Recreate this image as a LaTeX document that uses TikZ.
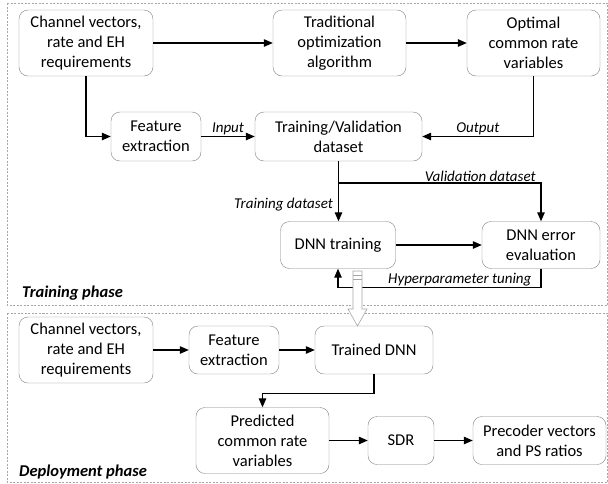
\documentclass[tikz,border=0pt]{standalone}
\usepackage{fontspec}
\setmainfont{Carlito}
\usetikzlibrary{arrows.meta}

\begin{document}
\begin{tikzpicture}[x=1pt,y=-1pt,
    box/.style={draw=gray,rounded corners=9pt,align=center,inner sep=0pt,
                font=\fontsize{16.5}{20}\selectfont},
    lbl/.style={font=\fontsize{15}{18}\selectfont\itshape,inner sep=1pt},
    phase/.style={font=\fontsize{16.5}{20}\selectfont\bfseries\itshape,anchor=west,inner sep=0pt},
    arr/.style={line width=1.2pt,-{Triangle[length=9pt,width=7.5pt]}},
    frame/.style={gray!70,dash pattern=on 2pt off 1.5pt,line width=0.6pt}]
  \useasboundingbox (0,0) rectangle (608,483);

  % phase frames
  \draw[frame] (7,3) rectangle (607.5,305);
  \draw[frame] (7,313) rectangle (607.5,482);
  \node[phase] (trphase) at (22,293) {Training phase};
  \node[phase] (dephase) at (19,472) {Deployment phase};

  % training phase
  \node[box,minimum width=134pt,minimum height=66pt] (chan) at (86,43)
       {Channel vectors,\\rate and EH\\requirements};
  \node[box,minimum width=133pt,minimum height=66pt] (trad) at (339.5,43)
       {Traditional\\optimization\\algorithm};
  \node[box,minimum width=133pt,minimum height=66pt] (opt) at (533.5,43)
       {Optimal\\common rate\\variables};
  \node[box,minimum width=90pt,minimum height=49pt] (feat) at (156,136.5)
       {Feature\\extraction};
  \node[box,minimum width=167pt,minimum height=49pt] (trval) at (338.5,136.5)
       {Training/Validation\\dataset};
  \node[box,minimum width=115pt,minimum height=47pt] (dnntr) at (338,245)
       {DNN training};
  \node[box,minimum width=118pt,minimum height=47pt] (dnnerr) at (541,245)
       {DNN error\\evaluation};
  \coordinate (vsplit) at (338.5,183);

  \draw[arr] (chan) -- (trad);
  \draw[arr] (trad) -- (opt);
  \draw[arr] (chan.south) |- (feat.west);
  \draw[arr] (feat) -- node[lbl,above] (inlbl) {Input} (trval);
  \draw[arr] (opt.south) |- node[lbl,above,pos=0.75] (outlbl) {Output} (trval.east);
  \draw[arr] (trval.south) -- node[lbl,left,pos=0.72,xshift=-4pt] (trlbl) {Training dataset}
       (trval.south |- dnntr.north);
  \draw[arr] (vsplit) -| node[lbl,above,pos=0.35] (vallbl) {Validation dataset}
       (dnnerr.north);
  \draw[arr] (dnntr) -- (dnnerr);
  \draw[arr] (dnnerr.south) -- ++(0,19) -| node[lbl,above,pos=0.2] (hplbl)
       {Hyperparameter tuning} (dnntr.south);

  % hand over the trained network
  \draw[gray!70,fill=white,line width=0.6pt] (353,271) -- (362,271) -- (362,309)
       -- (367,309) -- (357.5,326) -- (348,309) -- (353,309) -- cycle;
  \draw[gray!70,line width=0.6pt] (353,275) -- (362,275);
  \draw[gray!70,line width=0.6pt] (353,279) -- (362,279);

  % deployment phase
  \node[box,minimum width=134pt,minimum height=66pt] (chan2) at (86,350)
       {Channel vectors,\\rate and EH\\requirements};
  \node[box,minimum width=90pt,minimum height=48pt] (feat2) at (234,350)
       {Feature\\extraction};
  \node[box,minimum width=118pt,minimum height=48pt] (trained) at (374,350)
       {Trained DNN};
  \node[box,minimum width=133pt,minimum height=66pt] (pred) at (262.5,440.5)
       {Predicted\\common rate\\variables};
  \node[box,minimum width=66pt,minimum height=48pt] (sdr) at (401,440.5)
       {SDR};
  \node[box,minimum width=133pt,minimum height=48pt] (prec) at (539.5,440.5)
       {Precoder vectors\\and PS ratios};

  \draw[arr] (chan2) -- (feat2);
  \draw[arr] (feat2) -- (trained);
  \draw[arr] (trained.south) -- ++(0,19) -| (pred.north);
  \draw[arr] (pred) -- (sdr);
  \draw[arr] (sdr) -- (prec);
\end{tikzpicture}
\end{document}
